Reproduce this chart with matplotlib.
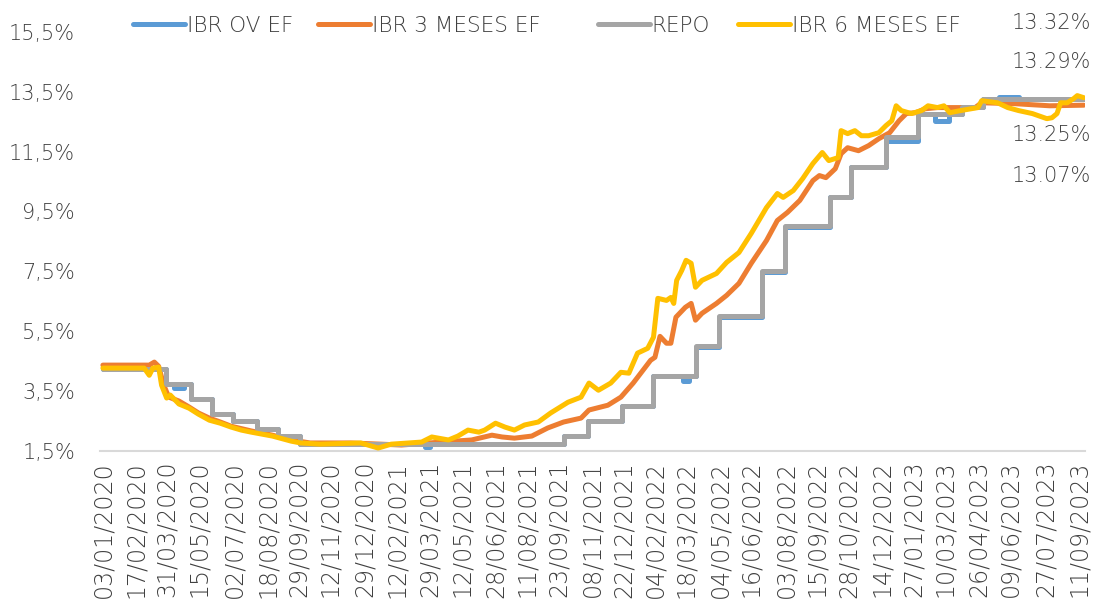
import pandas as pd
import numpy as np
import matplotlib
matplotlib.use("Agg")
import matplotlib.pyplot as plt

plt.rcParams['font.family'] = ['DejaVu Sans']
plt.rcParams['font.weight'] = 200

# %% data (% rates)
repoDates = ['2020-01-03', '2020-03-30', '2020-05-04', '2020-06-01', '2020-07-01',
             '2020-08-03', '2020-09-01', '2020-10-01', '2021-10-01', '2021-11-02',
             '2021-12-20', '2022-02-01', '2022-04-01', '2022-05-02', '2022-07-01',
             '2022-08-01', '2022-10-03', '2022-11-01', '2022-12-19', '2023-02-01',
             '2023-04-03', '2023-05-02', '2023-09-18']
repoVals = [4.25, 3.75, 3.25, 2.75, 2.50, 2.25, 2.00, 1.75, 2.00, 2.50,
            3.00, 4.00, 5.00, 6.00, 7.50, 9.00, 10.00, 11.00, 12.00, 12.75,
            13.00, 13.25, 13.25]

ovDates = ['2020-01-03', '2020-03-30', '2020-04-10', '2020-04-24', '2020-05-04',
           '2020-06-01', '2020-07-01', '2020-08-03', '2020-09-01', '2020-10-01',
           '2021-03-22', '2021-03-30', '2021-10-01', '2021-11-02', '2021-12-20',
           '2022-02-01', '2022-03-14', '2022-03-22', '2022-04-01', '2022-05-02',
           '2022-07-01', '2022-08-01', '2022-10-03', '2022-11-01', '2022-12-19',
           '2023-02-01', '2023-02-24', '2023-03-16', '2023-04-03', '2023-05-02',
           '2023-05-24', '2023-06-20', '2023-09-18']
ovVals = [4.24, 3.74, 3.62, 3.74, 3.24,
          2.74, 2.49, 2.24, 1.99, 1.74,
          1.62, 1.74, 1.99, 2.49, 2.99,
          3.99, 3.84, 3.99, 4.99, 5.99,
          7.49, 8.99, 9.99, 10.99, 11.85,
          12.74, 12.52, 12.74, 12.99, 13.24,
          13.32, 13.25, 13.25]

ibr3Dates = ['2020-01-03', '2020-03-07', '2020-03-14', '2020-03-20', '2020-03-27',
             '2020-04-03', '2020-04-17', '2020-05-01', '2020-05-14', '2020-05-29',
             '2020-06-13', '2020-06-28', '2020-07-26', '2020-08-24', '2020-09-19',
             '2020-10-15', '2020-12-10', '2021-01-21', '2021-02-18', '2021-04-14',
             '2021-05-26', '2021-06-23', '2021-07-07', '2021-07-24', '2021-08-17',
             '2021-09-08', '2021-09-30', '2021-10-24', '2021-11-04', '2021-11-30',
             '2021-12-18', '2022-01-04', '2022-01-28', '2022-02-03', '2022-02-10',
             '2022-02-19', '2022-02-25', '2022-03-04', '2022-03-17', '2022-03-25',
             '2022-03-31', '2022-04-09', '2022-04-29', '2022-05-13', '2022-05-30',
             '2022-06-16', '2022-07-07', '2022-07-22', '2022-08-05', '2022-08-22',
             '2022-09-09', '2022-09-18', '2022-09-27', '2022-10-10', '2022-10-18',
             '2022-10-27', '2022-11-11', '2022-11-25', '2022-12-09', '2022-12-24',
             '2023-01-06', '2023-01-16', '2023-01-29', '2023-02-11', '2023-02-28',
             '2023-03-27', '2023-04-21', '2023-04-30', '2023-06-15', '2023-08-02',
             '2023-09-18']
ibr3Vals = [4.37, 4.37, 4.47, 4.33, 3.70,
            3.30, 3.17, 2.97, 2.77, 2.60,
            2.47, 2.33, 2.17, 2.03, 1.87,
            1.77, 1.77, 1.73, 1.70, 1.80,
            1.87, 2.03, 1.97, 1.93, 2.00,
            2.27, 2.47, 2.60, 2.87, 3.03,
            3.30, 3.77, 4.53, 4.63, 5.33,
            5.10, 5.10, 5.97, 6.30, 6.43,
            5.87, 6.10, 6.43, 6.70, 7.10,
            7.77, 8.53, 9.20, 9.47, 9.87,
            10.53, 10.70, 10.63, 10.93, 11.43,
            11.63, 11.53, 11.70, 11.93, 12.13,
            12.53, 12.77, 12.80, 12.93, 12.97,
            12.97, 12.97, 13.13, 13.10, 13.03,
            13.05]

ibr6Dates = ['2020-01-03', '2020-02-29', '2020-03-07', '2020-03-12', '2020-03-20',
             '2020-03-24', '2020-03-31', '2020-04-05', '2020-04-17', '2020-05-01',
             '2020-05-14', '2020-05-29', '2020-06-13', '2020-06-28', '2020-07-12',
             '2020-07-26', '2020-08-24', '2020-09-19', '2020-10-02', '2020-10-29',
             '2020-12-24', '2021-01-17', '2021-02-04', '2021-03-18', '2021-04-01',
             '2021-04-24', '2021-05-07', '2021-05-21', '2021-06-05', '2021-06-13',
             '2021-06-28', '2021-07-11', '2021-07-24', '2021-08-07', '2021-08-26',
             '2021-09-12', '2021-10-06', '2021-10-24', '2021-11-04', '2021-11-17',
             '2021-12-04', '2021-12-18', '2021-12-29', '2022-01-10', '2022-01-24',
             '2022-02-01', '2022-02-07', '2022-02-19', '2022-02-25', '2022-03-01',
             '2022-03-05', '2022-03-12', '2022-03-18', '2022-03-25', '2022-03-31',
             '2022-04-09', '2022-04-29', '2022-05-13', '2022-05-30', '2022-06-16',
             '2022-07-07', '2022-07-22', '2022-07-30', '2022-08-13', '2022-08-26',
             '2022-09-09', '2022-09-22', '2022-10-01', '2022-10-14', '2022-10-18',
             '2022-10-27', '2022-11-06', '2022-11-15', '2022-11-25', '2022-12-09',
             '2022-12-19', '2022-12-27', '2023-01-02', '2023-01-09', '2023-01-23',
             '2023-02-06', '2023-02-15', '2023-02-28', '2023-03-09', '2023-03-17',
             '2023-04-01', '2023-04-25', '2023-04-30', '2023-05-22', '2023-06-05',
             '2023-06-20', '2023-07-09', '2023-07-29', '2023-08-05', '2023-08-12',
             '2023-08-17', '2023-08-26', '2023-09-04', '2023-09-09', '2023-09-18']
ibr6Vals = [4.27, 4.27, 4.03, 4.27, 4.30,
            3.70, 3.27, 3.37, 3.07, 2.93,
            2.73, 2.53, 2.43, 2.30, 2.20,
            2.13, 2.00, 1.83, 1.77, 1.73,
            1.77, 1.60, 1.73, 1.80, 1.97,
            1.87, 2.00, 2.20, 2.13, 2.20,
            2.43, 2.30, 2.20, 2.37, 2.47,
            2.77, 3.13, 3.30, 3.77, 3.53,
            3.77, 4.13, 4.10, 4.77, 4.93,
            5.30, 6.60, 6.53, 6.63, 6.43,
            7.20, 7.53, 7.87, 7.77, 6.97,
            7.20, 7.43, 7.80, 8.13, 8.77,
            9.63, 10.10, 9.97, 10.20, 10.60,
            11.10, 11.47, 11.20, 11.30, 12.20,
            12.10, 12.20, 12.03, 12.03, 12.13,
            12.37, 12.53, 13.03, 12.87, 12.77,
            12.87, 13.03, 12.97, 13.03, 12.80,
            12.87, 12.97, 13.20, 13.13, 12.97,
            12.87, 12.77, 12.60, 12.63, 12.77,
            13.13, 13.13, 13.27, 13.37, 13.30]

tickLabels = ['03/01/2020', '17/02/2020', '31/03/2020', '15/05/2020', '02/07/2020',
              '18/08/2020', '29/09/2020', '12/11/2020', '29/12/2020', '12/02/2021',
              '29/03/2021', '12/05/2021', '28/06/2021', '11/08/2021', '23/09/2021',
              '08/11/2021', '22/12/2021', '04/02/2022', '18/03/2022', '04/05/2022',
              '16/06/2022', '03/08/2022', '15/09/2022', '28/10/2022', '14/12/2022',
              '27/01/2023', '10/03/2023', '26/04/2023', '09/06/2023', '27/07/2023',
              '11/09/2023']
endLabels = ['13.32%', '13.29%', '13.25%', '13.07%']

# %%
txtCol = '#404040'
fig = plt.figure(figsize=(10.94, 6.12), dpi=100)
ax = fig.add_axes([0.0914, 0.263, 0.9006, 0.685])

lw = 3.6
lines = []
lines += ax.plot(pd.to_datetime(ovDates), ovVals, color='#5B9BD5', lw=lw,
                 drawstyle='steps-post', label='IBR OV EF', solid_capstyle='round')
lines += ax.plot(pd.to_datetime(ibr3Dates), ibr3Vals, color='#ED7D31', lw=lw,
                 label='IBR 3 MESES EF', solid_capstyle='round')
lines += ax.plot(pd.to_datetime(repoDates), repoVals, color='#A5A5A5', lw=lw,
                 drawstyle='steps-post', label='REPO', solid_capstyle='round')
lines += ax.plot(pd.to_datetime(ibr6Dates), ibr6Vals, color='#FFC000', lw=lw,
                 label='IBR 6 MESES EF', solid_capstyle='round')

yt = np.arange(1.5, 15.6, 2)
ax.set_ylim(1.5, 15.5)
ax.set_yticks(yt)
ax.set_yticklabels([f"{v:.1f}%".replace('.', ',') for v in yt])
tickDates = pd.to_datetime(tickLabels, format='%d/%m/%Y')
ax.set_xticks(tickDates)
ax.set_xticklabels(tickLabels, rotation=90)
ax.set_xlim(pd.Timestamp('2019-12-30'), pd.Timestamp('2023-09-20'))
ax.tick_params(axis='both', length=0, colors=txtCol)
ax.tick_params(axis='y', pad=18, labelsize=15)
ax.tick_params(axis='x', pad=7, labelsize=17)

for s in ['top', 'right', 'left']:
    ax.spines[s].set_visible(False)
ax.spines['bottom'].set_color('#D9D9D9')
ax.spines['bottom'].set_linewidth(1.5)
ax.spines['bottom'].set_zorder(0)

# legend entries placed one by one, like the Excel layout
legX = [133, 318, 598, 738]
for ln, xx in zip(lines, legX):
    lg = fig.legend([ln], [ln.get_label()], loc='center left',
                    bbox_to_anchor=(xx / 1094, 1 - 26 / 612), frameon=False,
                    fontsize=15.5, handlelength=2.4, handletextpad=0.1,
                    borderpad=0, borderaxespad=0, labelcolor=txtCol)

endY = [0.962, 0.898, 0.780, 0.713]
for lab, yy in zip(endLabels, endY):
    fig.text(0.997, yy, lab, ha='right', va='center', fontsize=15, color=txtCol)

plt.savefig("out.png", dpi=100)
